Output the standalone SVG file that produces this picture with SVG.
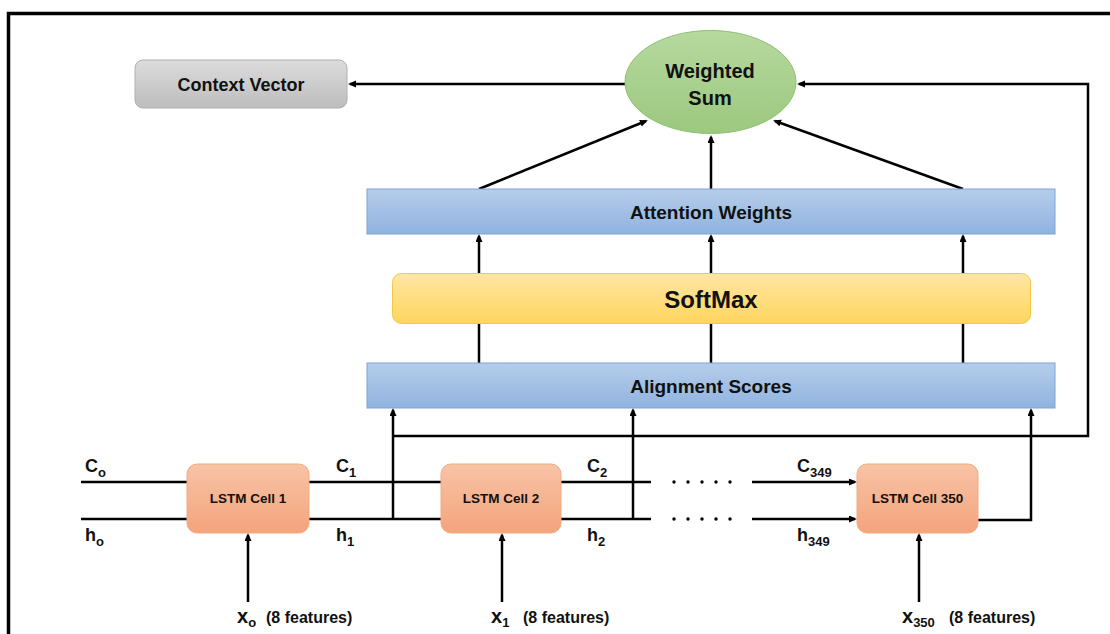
<svg xmlns="http://www.w3.org/2000/svg" width="1110" height="634" viewBox="0 0 1110 634">
<defs>
<linearGradient id="gBlue" x1="0" y1="0" x2="0" y2="1"><stop offset="0" stop-color="#b6cdea"/><stop offset="1" stop-color="#8fb3e0"/></linearGradient>
<linearGradient id="gYel" x1="0" y1="0" x2="0" y2="1"><stop offset="0" stop-color="#ffe7a3"/><stop offset="1" stop-color="#ffd55e"/></linearGradient>
<linearGradient id="gOr" x1="0" y1="0" x2="0" y2="1"><stop offset="0" stop-color="#f8c3a6"/><stop offset="1" stop-color="#f4a47c"/></linearGradient>
<linearGradient id="gGray" x1="0" y1="0" x2="0" y2="1"><stop offset="0" stop-color="#dcdcdc"/><stop offset="1" stop-color="#bdbdbd"/></linearGradient>
<linearGradient id="gGreen" x1="0" y1="0" x2="0" y2="1"><stop offset="0" stop-color="#b6d99e"/><stop offset="1" stop-color="#9cc87f"/></linearGradient>
<marker id="ah" markerUnits="userSpaceOnUse" markerWidth="9" markerHeight="8" refX="6" refY="3.5" orient="auto"><path d="M0,0 L8,3.5 L0,7 z" fill="#000"/></marker>
<style>
.ln{fill:none;stroke:#000;stroke-width:2.5}
.ar{marker-end:url(#ah)}
.t{font-family:"Liberation Sans",Arial,sans-serif;font-weight:bold;fill:#111}
.c{text-anchor:middle}
.blue{fill:url(#gBlue);stroke:#7ea4d4;stroke-width:1}
.cell{fill:url(#gOr);stroke:#f2ab80;stroke-width:1}
</style>
</defs>
<rect width="1110" height="634" fill="#fff"/>
<path d="M8.5,640 V13.5 H1115" fill="none" stroke="#000" stroke-width="3.5"/>
<g id="connectors">
<path class="ln ar" d="M625,84 H350"/>
<path class="ln ar" d="M393,436 H1088 V84 H799"/>
<path class="ln ar" d="M479,189 L646,121"/>
<path class="ln ar" d="M711,189 V137"/>
<path class="ln ar" d="M963,189 L775,121"/>
<path class="ln ar" d="M479,363 V236"/>
<path class="ln ar" d="M711,363 V236"/>
<path class="ln ar" d="M963,363 V236"/>
<path class="ln ar" d="M393,519 V410"/>
<path class="ln ar" d="M633,519 V410"/>
<path class="ln ar" d="M978,520 H1031 V410"/>
<path class="ln" d="M81,482 H187 M81,519 H187"/>
<path class="ln" d="M309,482 H441 M309,519 H441"/>
<path class="ln" d="M561,482 H651 M561,519 H651"/>
<path class="ln ar" d="M752,482 H855"/>
<path class="ln ar" d="M752,519 H855"/>
<path class="ln ar" d="M248,602 V535"/>
<path class="ln ar" d="M502,602 V535"/>
<path class="ln ar" d="M919,602 V535"/>
<g fill="#000">
<circle cx="674" cy="482" r="1.7"/><circle cx="688" cy="482" r="1.7"/><circle cx="702" cy="482" r="1.7"/><circle cx="716" cy="482" r="1.7"/><circle cx="730" cy="482" r="1.7"/>
<circle cx="674" cy="519" r="1.7"/><circle cx="688" cy="519" r="1.7"/><circle cx="702" cy="519" r="1.7"/><circle cx="716" cy="519" r="1.7"/><circle cx="730" cy="519" r="1.7"/>
</g>
</g>
<g id="context-vector">
<rect x="135" y="60" width="212" height="48" rx="8" fill="url(#gGray)" stroke="#b0b0b0" stroke-width="1"/>
<text class="t c" x="241" y="90.5" font-size="18">Context Vector</text>
</g>
<g id="weighted-sum">
<ellipse cx="710.5" cy="82" rx="85.5" ry="51.5" fill="url(#gGreen)" stroke="#8cc06f" stroke-width="1"/>
<text class="t c" x="710" y="78" font-size="20">Weighted</text>
<text class="t c" x="710" y="105" font-size="20">Sum</text>
</g>
<g id="attention-weights">
<rect class="blue" x="367" y="189" width="688" height="45"/>
<text class="t c" x="711" y="219" font-size="19">Attention Weights</text>
</g>
<g id="softmax">
<rect x="392.5" y="273.5" width="638" height="50" rx="9" fill="url(#gYel)" stroke="#f3c845" stroke-width="1"/>
<text class="t c" x="711" y="307.5" font-size="24">SoftMax</text>
</g>
<g id="alignment-scores">
<rect class="blue" x="367" y="363" width="688" height="45"/>
<text class="t c" x="711" y="393" font-size="19">Alignment Scores</text>
</g>
<g id="lstm-cell-1">
<rect class="cell" x="187" y="464" width="122" height="69" rx="10"/>
<text class="t c" x="248" y="503" font-size="13.5">LSTM Cell 1</text>
</g>
<g id="lstm-cell-2">
<rect class="cell" x="441" y="464" width="120" height="69" rx="10"/>
<text class="t c" x="501" y="503" font-size="13.5">LSTM Cell 2</text>
</g>
<g id="lstm-cell-350">
<rect class="cell" x="857" y="464" width="121" height="69" rx="10"/>
<text class="t c" x="917.5" y="503" font-size="13.5">LSTM Cell 350</text>
</g>
<g id="labels">
<text class="t" x="85" y="472" font-size="18">C<tspan font-size="13" dy="5">o</tspan></text>
<text class="t" x="85" y="541" font-size="18">h<tspan font-size="13" dy="5">o</tspan></text>
<text class="t" x="336" y="472" font-size="18">C<tspan font-size="13" dy="5">1</tspan></text>
<text class="t" x="336" y="541" font-size="18">h<tspan font-size="13" dy="5">1</tspan></text>
<text class="t" x="587" y="472" font-size="18">C<tspan font-size="13" dy="5">2</tspan></text>
<text class="t" x="587" y="541" font-size="18">h<tspan font-size="13" dy="5">2</tspan></text>
<text class="t" x="797" y="472" font-size="18">C<tspan font-size="13" dy="5">349</tspan></text>
<text class="t" x="797" y="541" font-size="18">h<tspan font-size="13" dy="5">349</tspan></text>
<text class="t" x="237" y="623" font-size="20">x<tspan font-size="13" dy="4">o</tspan></text>
<text class="t" x="266" y="623" font-size="16">(8 features)</text>
<text class="t" x="491" y="623" font-size="20">x<tspan font-size="13" dy="4">1</tspan></text>
<text class="t" x="523" y="623" font-size="16">(8 features)</text>
<text class="t" x="902" y="623" font-size="20">x<tspan font-size="13" dy="4">350</tspan></text>
<text class="t" x="949" y="623" font-size="16">(8 features)</text>
</g>
</svg>
